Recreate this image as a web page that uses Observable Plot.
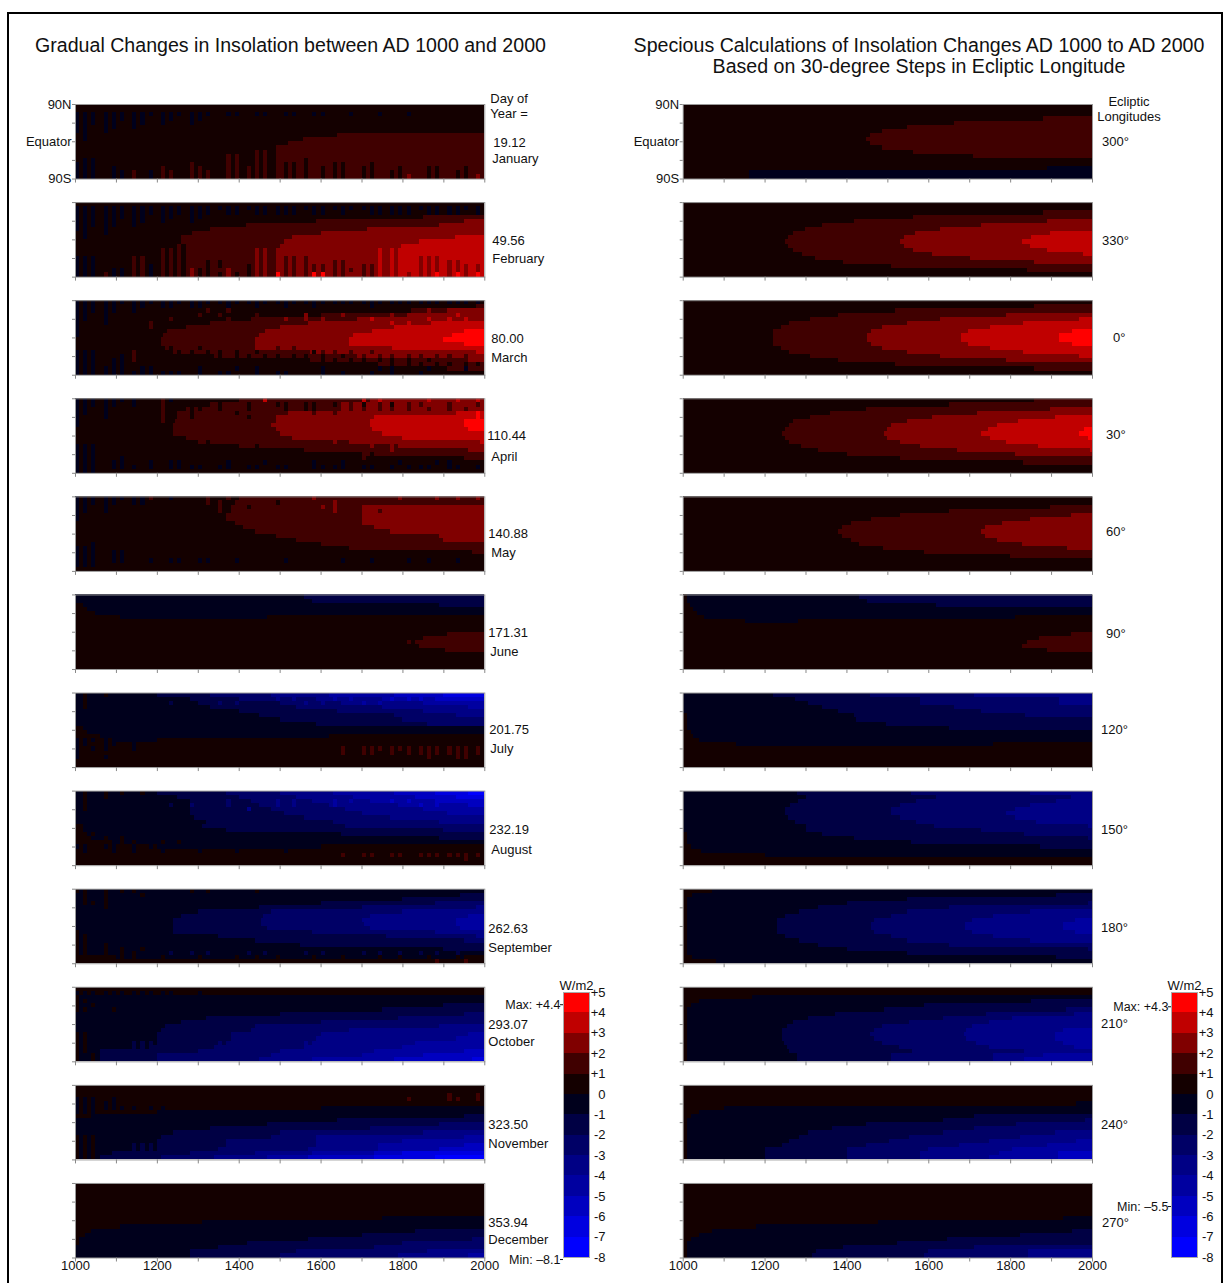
<!DOCTYPE html>
<html><head><meta charset="utf-8">
<script src="https://cdn.jsdelivr.net/npm/d3@7"></script>
<script src="https://cdn.jsdelivr.net/npm/@observablehq/plot@0.6"></script>
<style>
html,body{margin:0;padding:0;background:#fff;overflow:hidden}
#page{position:relative;width:1223px;height:1283px;font-family:"Liberation Sans",Arial,sans-serif;color:#111}
#page>*{position:absolute}
#box{left:7px;top:12px;width:1212px;height:1280px;border:2.5px solid #000}
.t{font-size:19.6px;white-space:nowrap;transform:translateX(-50%);line-height:21px}
</style></head><body><div id="page"><div id="box"></div></div>
<script>
// class codes: 0..4 = 0..+5 W/m2 in unit steps, a..h = 0..-8
const classCodes = ["h","g","f","e","d","c","b","a","0","1","2","3","4"];
const classLower = [-8,-7,-6,-5,-4,-3,-2,-1,0,1,2,3,4];
const classColors = ["#0000ff","#0000e0","#0000c0","#0000a0","#000085","#000066","#000044","#00001c","#140000","#400000","#800000","#c00000","#ff0000"];
const yearTicks = [1000,1100,1200,1300,1400,1500,1600,1700,1800,1900,2000];
const yearLabels = [1000,1200,1400,1600,1800,2000];
const spikeYears = [1000,1020,1040,1070,1090,1110,1140,1160,1180,1210,1230,1250,1280,1300,1320,1350,1370,1390,1420,1440,1460,1490,1510,1530,1560,1580,1600,1630,1650,1670,1700,1720,1740,1770,1790,1810,1840,1860,1880,1910,1930,1950,1980];

// LEFT COLUMN — base bands per latitude row (90N to 90S), "class class@startYear ..."
const janBase = ["0","0","0","0","0","0","0","0 1@1640","0 1@1557","0 1@1520","0 1@1500","0 1@1500","0 1@1500","0 1@1500","0 1@1500","0 1@1500","0 1@1500","0 1@1500"];
const janSpikes = {2:"aaa aaa aaa aaa aaa .aa .aa .aa .aa ..a ..a ..a",3:"aaa aaa aa. aa. aa.",4:"aaa aa. aa. a.. a..",5:"aa. aa. a..",6:"aa. a..",7:".a.",8:".a.",
10:"... ... ... ... ... ... ... 1",11:"... ... ... ... ... ... .11 1",12:"... ... ... ... ... .11 .11 1",13:".aa ... ... ... ... .11 .11 1.. 0..",14:"aaa ... ... ... 1.. .11 .11 100 0.. 00. .0.",15:"aaa .a. ... 1.. 11. .11 111 100 0.0 00. 00. .0. .00 ..0",16:"aaa .aa 1.a 11. 111 .11 111 100 0.0 00. 00. 00. .00 .00",17:"aaa .aa 1.a 11. 111 .11 111 100 0.0 00. 00. 002 .00 .00 2"};
const febBase = ["0","0","0","0 1@1850","0 1@1590 2@1950","0 1@1417 2@1890","0 1@1330 2@1714","0 1@1286 2@1600","0 1@1260 2@1530 3@1928","0 1@1260 2@1510 3@1841","0 1@1270 2@1500 3@1797","0 1@1270 2@1500 3@1797","0 1@1270 2@1500 3@1797","0 1@1270 2@1500 3@1797","0 1@1270 2@1500 3@1797","0 1@1270 2@1500 3@1797","0 1@1270 2@1500 3@1797","0 1@1270 2@1500 3@1797"];
const febSpikes = {1:"aaa aaa aaa aaa aaa aaa aaa aaa aaa aaa aaa aaa aaa aaa a",2:"aaa aaa aaa aaa aaa .aa .aa aaa .aa .a. .aa aaa .aa aa. a",3:"aaa aaa aa. aa. aa.",4:"aaa aa. aa. a.. a..",5:"aaa aa. a..",6:"aa. a..",7:".a. a..",8:".a.",
10:"... ... ... ..1",11:"... ... ... 111 ... ... .22 2.. ... ... ..3 33.",12:"... ... ... 111 ... ... .22 2.. ... ... ..3 33.",13:"aaa ... 11. 111 ... ... .22 211 1.. ... ..3 33. 222",14:"aaa ... 11. 111 ..0 0.. .22 211 1.. 11. ..3 33. 222 22.",15:"aaa ... 11a 111 ..0 0.. 022 211 111 11. 113 33. 222 222 2",16:"aaa .aa 11a 111 200 .2. 022 211 111 111 113 33. 222 222 2",17:"aaa 1aa 11a 111 200 020 022 411 144 112 113 332 224 242 4"};
const marBase = ["0","0 1@1980","0 1@1820 2@1910","0 1@1600 2@1820","0 1@1430 2@1690","0 1@1330 2@1570 3@1870","0 1@1270 2@1500 3@1780","0 1@1225 2@1465 3@1725 4@1950","0 1@1215 2@1450 3@1680 4@1920","0 1@1210 2@1440 3@1670 4@1900","0 1@1210 2@1440 3@1670 4@1950","0 1@1210 2@1440 3@1775","0 1@1230 2@1574 3@1985","0 1@1340 2@1690","0 1@1574 2@1950","0 1@1740","0 1@1910","0"];
const marSpikes = {0:"aaa aaa aaa aaa aaa aaa aaa aaa aaa aaa aaa aaa aaa aaa a",1:"aaa aa. aa. aa. aa. .a. .a. .a. .a. ... .a.",2:"aaa aa. a.. ... ..1 .1. ... ... ... ... ... ... .2. 2.2",3:"aa. a.. ... ... .1. 1.. .1. ... 2.. .2. ... 2.2 2.. .3.",4:"aa. a.. ... .1. ... .1. ... .2. 2.2 ... .3. ... .3. 3.3",5:"a.. a.. ..1 ... ... ... ... ... .2. ... ... 3.3",6:"a.. ... ..1",7:"a..",8:"a..",
11:"... ... ... 00. .0. ... ... 1.1 ... 2.2 2.2 ... 3.3 .3.",12:"aaa ... 1.. 000 0.0 0.0 101 1.1 101 1.1 212 2.2 2.2 2.2 3",13:"aaa ..a 1.. 000 000 0.0 0.0 0.0 010 101 1.1 1.1 1.1 1.1",14:"aaa .aa 1.. ... 000 0.. 0.. 0.0 0.0 0.0 010 010 101 1.1",15:"aaa .aa ... ... ... ... ... ... ... 0.0 ... 0.0 010 0.0 0",16:"aaa aaa .aa ... .a. ..a .a. ... ..a ... ..a a.. .a. ..a",17:"aaa aaa aaa aaa .a. aa. .a. aa. ..a .a. .a. a.. a.."};
const aprBase = ["0 1@1400 2@1720","0 1@1330 2@1650","0 1@1270 2@1650","0 1@1250 2@1520 3@1930","0 1@1250 2@1490 3@1730","0 1@1245 2@1490 3@1720 4@1950","0 1@1240 2@1480 3@1720 4@1950","0 1@1240 2@1490 3@1725 4@1960","0 1@1240 2@1500 3@1750","0 1@1270 2@1530 3@1800","0 1@1300 2@1680 3@1990","0 1@1400 2@1790","0 1@1560 2@1960","0 1@1700","0 1@1950","0","0","0"];
const aprSpikes = {0:"aaa aaa a.. 1a. ... ... ..3 ... .1. ... 3.3 ... .3. .3. 3",1:"aaa aa. a.. 1.. 00. 0.. 0.. 00. 00. 0.1 0.1 0.1 1.. 1.. 1",2:"aa. a.. ... 1.. 00. 0.. 0.. .0. 00. 1.1 1.1 1.1 .1. 1.1",3:"aa. a.. ... 1.. 0.. ..0 ... ... .1. 1.. 2.2 2.2 .2. 2.. 4",4:"a.. a.. ... 1.. 0.. ... 0.. ... ... ... ... ... ... .3. 4",5:"a.. ... ... 1..",6:"a..",
10:"... ... ... ... 0.0 ... ... 1.1 ... 2.2 2.2",11:"aaa ... ... ... ... 0.0 .0. 1.1 .1. 1.1 .2. 2.2 2.. ... 2",12:"aaa ... ... ... 0.0 .0. 0.0 0.0 1.. 1.1 1.1 2.1 .1. 1.1 2",13:"aaa ... ... ... ... .0. 0.0 ... .0. 0.. .0. 1.1 1.1 1.1 1",14:"aaa ..a ... ... ... ... ... ... ... .0. 1.0 .0. 0.0 .0. 1",15:"aaa .aa ..a .aa ... .a. ..a ... .a. .a. ... .a. ..a a..",16:"aaa .aa a.a .aa aa. aa. aa. aa. .aa aa. aa. a.a aa. aa. a",17:"aaa"};
const mayBase = ["0 1@1400","0 1@1400","0 1@1380 2@1700","0 1@1380 2@1700","0 1@1380 2@1700","0 1@1380 2@1700","0 1@1390 2@1700","0 1@1410 2@1730","0 1@1440 2@1770","0 1@1490 2@1890","0 1@1540 2@1900","0 1@1600","0 1@1670","0 1@1970","0","0","0","0"];
const maySpikes = {0:"aaa aaa aa1 .a. ..1 .1. ..1 ... .2. ... ... .2. ..2 .2. 2",1:"aaa aa. aa. ... ..1 1.1 ... 0.. ... 2.. ... ... ...",2:"aa. a.. ... ... ... 1.1 0.. ... ..2 2..  ... ... ... .2.",3:"aa. a.. ... ... ... 1.1 ... ... ... 2.. 2.1 ... ... .2.",4:"a.. ... ... ... ... .1.",5:"a.. ... ... ... ... .1.",11:"..a",12:"aaa",13:"aaa .aa",14:"aaa .aa",15:"aaa .aa ..a .aa .aa ..a ... .a. ... .a. .a. ..a .a. .a.",16:"aaa"};
const junBase = ["a b@1560","a b@1580","0 a@1020 b@1889","0 a@1030","0 a@1050","0 a@1110 0@1470","0","0","0","0 1@1910","0 1@1850","0 1@1830","0 1@1840","0 1@1905","0","0","0","0"];
const junSpikes = {11:"... ... ... ... ... ... ... ... ... ... ... ..1"};
const julBase = ["a b@1200 c@1330 d@1480 e@1620 f@1780 g@1900","a b@1280 c@1400 d@1590 e@1750 f@1890","a b@1300 c@1500 d@1650 e@1850","a b@1330 c@1540 d@1750 e@1960","a b@1400 c@1640 d@1850","a b@1450 c@1780 d@1930","a b@1500 c@1800","a b@1590 c@1860","0 a@1020","0 a@1030","0 a@1060 0@1620","0 a@1100 0@1200","0","0","0","0","0","0"];
const julSpikes = {0:"a0. 0.. ... b..",1:".0. ... ... ... ... ... c.c d.d ... e.e ... f.f f.f f.f f",2:".0. ... ... .b. ... c.c ... ... d.d ... e.e",3:".0.",11:"aaa aa. .a.",12:"aa. aa. a..",13:"a.a a.. a.. ... ... ... ... ... ... .1. 111 111 111 111 1",14:"a.. ... ... ... ... ... ... ... ... .1. 11. 1.1 111 111 1",15:"a.. a.. ... ... ... ... ... ... ... ... ... ... .1. .11"};
const augBase = ["a b@1200 c@1370 d@1500 e@1630 f@1780 g@1880 h@1960","a b@1250 c@1400 d@1540 e@1680 f@1830 g@1930","a b@1280 c@1430 d@1580 e@1720 f@1880","a b@1280 c@1450 d@1620 e@1790 f@1960","a b@1280 c@1480 d@1660 e@1850","a b@1280 c@1510 d@1700 e@1910","a b@1290 c@1560 d@1770","a b@1320 c@1630 d@1890","0 a@1020 b@1310 c@1660","0 a@1020 b@1370 c@1900","0 a@1030 b@1650","0 a@1040 b@1890","0 a@1090","0 a@1200 0@1600","0","0","0","0"];
const augSpikes = {0:"a0a 0.0 .0.",1:".0. 0..",2:".0. ... ... ... ... .c. ... d.d ... e.e ... f.f",3:".0. ... ... .b. c.. .c. ..c d.d ... e.. ... ... f.f",4:".0. ... ... ... ... ... d..",9:"0..",10:"0.0",11:".0. 0.0",12:".0. 0.0 0.. 0.0",13:"aa. aa. a.a a.a .a. a.a .a. a.a .a.",14:".a. .a. a.. a.. .a. ..a ... .a.",15:"... ... ... ... ... ... ... ... ... .1. 11. 11. 111 111 1",16:"... ... ... ... ... ... ... ... ... ... ... ... ... ..1"};
const sepBase = ["a","a b@1940","a b@1800","a b@1600 c@1880","a b@1450 c@1700 d@1980","a b@1300 c@1480 d@1800","a b@1260 c@1460 d@1720 e@1960","a b@1240 c@1455 d@1700 e@1930","a b@1240 c@1454 d@1705 e@1930","a b@1240 c@1470 d@1720 e@1940","a b@1240 c@1580 d@1880","a b@1350 c@1760 d@1980","a b@1440 c@1950","a b@1550","a b@1900","a","0 a@1100 0@1950","0"];
const sepSpikes = {0:"00. 0.0 0.. ... 0.0 ... .0.",1:".0. 0.. .0.",2:".0. 0..",3:".00 0..",4:"... 0",10:"0..",11:"00.",12:"00.",13:"00. 0..",14:"00. 0.0 .0.",15:"00. 0.0 0.. .b. b.b ... b.b ... b.b ... b.b .b. b.b .b.",16:"00. 0.0 0.. 0.. .0. ..0 .0. 0.. .0. .0. ..0 .0. .0. .0. 0",17:"... ... ... ... ... ... ... ... ... ... ... ... ..1 ..1"};
const octBase = ["0","0","a","a","a b@1900","a b@1750","a b@1500 c@1950","a b@1320 c@1790","a b@1260 c@1600","a b@1220 c@1440 d@1890","a b@1210 c@1430 d@1670","a b@1200 c@1380 d@1600 e@1960","a b@1200 c@1380 d@1590 e@1930","a b@1200 c@1380 d@1580 e@1830","a b@1180 c@1340 d@1560 e@1800","a b@1060 c@1300 d@1500 e@1730 f@1950","a b@1060 c@1200 d@1480 e@1700 f@1850","a b@1060 c@1200 d@1450 e@1580 f@1780 g@1970"];
const octSpikes = {1:"aaa aaa aaa aa. .a.",2:"0..",3:"00.",4:"0.0",5:"00. .0.",11:"00.",12:"00.",13:"00. ... bbb ... ... ccc ... ... ddd ... ... ... eee",14:"00. ... bbb ... ... ccc ... ... ddd ... ... ... eee",15:"00.",16:"0.0",17:"0.0"};
const novBase = ["0","0","0","0","0","0 a@1600","0 a@1200","0 a@1040 b@1950","a b@1640","a b@1470 c@1890","a b@1330 c@1720","a b@1240 c@1500 d@1850","a b@1210 c@1480 d@1590 e@1950","a b@1200 c@1370 d@1590 e@1800","a b@1200 c@1370 d@1590 e@1740 f@1950","a b@1200 c@1350 d@1570 e@1740 f@1890","a b@1090 c@1280 d@1440 e@1580 f@1730 g@1800","a b@1060 c@1210 d@1340 e@1470 f@1570 g@1730 h@1880"];
const novSpikes = {2:"... ... ... ... ... ... ... ... ... ... ... ... ... 1.. 1",3:"aaa .a. ... ... ... ... ... ... ... ... ... ..1 ... 11. 1",4:"aaa aa.",5:"aaa aaa a.a a..",6:"aaa",12:"000",13:"000",14:"000 ... bbb",15:"000 ... bbb",16:"000",17:"000"};
const decBase = ["0","0","0","0","0","0","0","0","0 a@1750","0 a@1310","0 a@1110","0 a@1040 b@1830","0 a@1025 b@1700","0 a@1010 b@1570 c@1970","0 a@1010 b@1420 c@1800","a b@1350 c@1730","a b@1280 c@1540 d@1860","a b@1280 c@1500 d@1790 e@1960"];

// RIGHT COLUMN
const lon300 = ["0","0","0","0 1@1880","0 1@1663","0 1@1549","0 1@1488","0 1@1458","0 1@1449","0 1@1458","0 1@1488","0 1@1562","0 1@1710","0","0","0 a@1889","0 a@1161","0 a@1161"];
const lon330 = ["0","0","0 1@1880","0 1@1562","0 1@1419 2@1889","0 1@1340 2@1728","0 1@1299 2@1628","0 1@1270 2@1567 3@1898","0 1@1257 2@1541 3@1850","0 1@1250 2@1530 3@1828","0 1@1257 2@1541 3@1848","0 1@1270 2@1562 3@1889","0 1@1292 2@1610 3@1977","0 1@1323 2@1702","0 1@1392 2@1859","0 1@1510","0 1@1841","0"];
const lon0 = ["0","0 1@1859","0 1@1519","0 1@1379 2@1789","0 1@1310 2@1628 3@1968","0 1@1259 2@1549 3@1831","0 1@1240 2@1488 3@1750","0 1@1221 2@1460 3@1698 4@1950","0 1@1221 2@1451 3@1680 4@1920","0 1@1221 2@1451 3@1680 4@1920","0 1@1221 2@1460 3@1698 4@1950","0 1@1240 2@1488 3@1750","0 1@1259 2@1549 3@1831","0 1@1310 2@1628 3@1968","0 1@1379 2@1789","0 1@1519","0 1@1859","0"];
const lon30 = ["0 1@1859","0 1@1650","0 1@1449 2@1898","0 1@1360 2@1719","0 1@1310 2@1610 3@1909","0 1@1270 2@1549 3@1820","0 1@1259 2@1510 3@1768","0 1@1250 2@1500 3@1746 4@1981","0 1@1242 2@1491 3@1730 4@1968","0 1@1250 2@1500 3@1750 4@1990","0 1@1259 2@1530 3@1789","0 1@1290 2@1580 3@1868","0 1@1330 2@1671 3@1994","0 1@1401 2@1811","0 1@1532","0 1@1831","0","0"];
const lon60 = ["0","0","0 1@1898","0 1@1650","0 1@1530 2@1948","0 1@1460 2@1848","0 1@1410 2@1780","0 1@1390 2@1739","0 1@1379 2@1730","0 1@1390 2@1739","0 1@1410 2@1769","0 1@1430 2@1829","0 1@1490 2@1939","0 1@1590","0 1@1800","0","0","0"];
const lon90 = ["0 a@1011 b@1430","0 a@1011 b@1451","0 a@1017 b@1619","0 a@1026","0 a@1035","0 a@1052 0@1811","0 a@1153 0@1281","0","0","0 1@1948","0 1@1870","0 1@1842","0 1@1829","0 1@1889","0","0","0","0"];
const lon120 = ["a b@1221 c@1458 d@1711","a b@1275 c@1580 d@1920","a b@1305 c@1580 d@1920","a b@1340 c@1663","a b@1379 c@1728","0 a@1011 b@1419 c@1837","0 a@1011 b@1424","0 a@1011 b@1497","0 a@1011 b@1650","0 a@1020","0 a@1026","0 a@1040","0 a@1131 0@1759","0","0","0","0","0"];
const lon150 = ["a b@1279 c@1558 d@1848","a b@1301 c@1619 d@1948","a b@1281 c@1571 d@1911","a b@1262 c@1530 d@1848","a b@1250 c@1510 d@1811","a b@1250 c@1510 d@1789","a b@1257 c@1530 d@1811","a b@1275 c@1571 d@1863","a b@1301 c@1615 d@1990","a b@1301 c@1728","0 a@1011 b@1340 c@1833","0 a@1011 b@1419 c@1990","0 a@1011 b@1558","0 a@1020 b@1872","0 a@1044","0 a@1200","0","0"];
const lon180 = ["0 a@1072","0 a@1022 b@1911","0 a@1011 b@1549","0 a@1011 b@1401 c@1990","0 a@1011 b@1331 c@1650","0 a@1011 b@1283 c@1549 d@1848","0 a@1011 b@1250 c@1510 d@1759","0 a@1011 b@1231 c@1468 d@1706 e@1959","0 a@1011 b@1231 c@1460 d@1689 e@1929","0 a@1011 b@1231 c@1460 d@1689 e@1929","0 a@1011 b@1231 c@1468 d@1706 e@1959","0 a@1011 b@1250 c@1510 d@1759","0 a@1011 b@1283 c@1549 d@1848","0 a@1011 b@1331 c@1650","0 a@1011 b@1401 c@1990","0 a@1011 b@1549","0 a@1022 b@1911","0 a@1081"];
const lon210 = ["0","0","0 a@1170","0 a@1040 b@1850","0 a@1020 b@1590","0 a@1011 b@1491 c@1937","0 a@1011 b@1373 c@1740 d@1956","0 a@1011 b@1307 c@1636 d@1805","0 a@1011 b@1270 c@1552 d@1749","0 a@1011 b@1256 c@1486 d@1707","0 a@1011 b@1242 c@1467 d@1693 e@1928","0 a@1011 b@1242 c@1458 d@1688 e@1909","0 a@1011 b@1242 c@1467 d@1693 e@1909","0 a@1011 b@1247 c@1486 d@1716 e@1928","0 a@1011 b@1256 c@1528 d@1749 e@1956","0 a@1011 b@1260 c@1561 d@1834","0 a@1011 b@1279 c@1509 d@1759 e@1881","0 a@1011 b@1279 c@1509 d@1759 e@1834"];
const lon240 = ["0","0","0","0","0 a@1960","0 a@1101","0 a@1040","0 a@1020 b@1712","0 a@1011 b@1636 c@1984","0 a@1011 b@1448 c@1815","0 a@1011 b@1364 c@1712","0 a@1011 b@1307 c@1636 d@1909","0 a@1011 b@1284 c@1552 d@1824","0 a@1011 b@1260 c@1505 d@1749 e@1961","0 a@1011 b@1242 c@1448 d@1674 e@1890","0 a@1011 b@1200 c@1401 d@1599 e@1805","0 a@1011 b@1200 c@1401 d@1580 e@1773 f@1918","0 a@1011 b@1200 c@1401 d@1580 e@1749 f@1918"];
const lon270 = ["0","0","0","0","0","0","0","0","0 a@1928","0 a@1477","0 a@1180","0 a@1072 b@1951","0 a@1040 b@1824","0 a@1020 b@1646","0 a@1011 b@1523","0 a@1011 b@1392 c@1712","0 a@1011 b@1326 c@1599 d@1843","0 a@1011 b@1317 c@1590 d@1843"];

const leftBases = [janBase,febBase,marBase,aprBase,mayBase,junBase,julBase,augBase,sepBase,octBase,novBase,decBase];
const leftSpikes = [janSpikes,febSpikes,marSpikes,aprSpikes,maySpikes,junSpikes,julSpikes,augSpikes,sepSpikes,octSpikes,novSpikes,{}];
const rightBases = [lon300,lon330,lon0,lon30,lon60,lon90,lon120,lon150,lon180,lon210,lon240,lon270];

const dayValues = ["19.12","49.56","80.00","110.44","140.88","171.31","201.75","232.19","262.63","293.07","323.50","353.94"];
const monthNames = ["January","February","March","April","May","June","July","August","September","October","November","December"];
const longitudes = ["300°","330°","0°","30°","60°","90°","120°","150°","180°","210°","240°","270°"];
// label placement in page pixels
const dayX = [493,492,491,487,488,488,489,489,488,488,488,488];
const dayY = [142,240,338,435,533,632,729,829,928,1024,1124,1222];
const monthX = [492,492,491,491,491,490,490,491,488,488,488,488];
const monthY = [158,258,357,456,552,651,748,849,947,1041,1143,1239];
const lonX = [1102,1102,1113,1106,1106,1106,1101,1101,1101,1101,1101,1102];
const lonY = [141,240,337,434,531,633,729,829,927,1023,1124,1222];

const valueOf = Object.fromEntries(classCodes.map((c,i)=>[c,classLower[i]+0.5]));
const cells = [];
function addRuns(rows,col,row){
  rows.forEach((s,r)=>{
    const toks = s.split(" ").map((t,i)=> i===0?[t,1000]:[t.split("@")[0],+t.split("@")[1]]);
    toks.forEach(([c,start],i)=>{
      cells.push({col,row,x1:start,x2:i+1<toks.length?toks[i+1][1]:2000,y1:90-10*r,y2:80-10*r,v:valueOf[c]});
    });
  });
}
function addSpikes(strips,col,row){
  Object.entries(strips).forEach(([r,s])=>{
    [...s.replace(/\s/g,"")].forEach((c,i)=>{
      if(c!=="."&&i<spikeYears.length) cells.push({col,row,x1:spikeYears[i],x2:spikeYears[i]+10,y1:90-10*r,y2:80-10*r,v:valueOf[c]});
    });
  });
}
leftBases.forEach((b,i)=>{addRuns(b,0,i);addSpikes(leftSpikes[i],0,i);});
rightBases.forEach((b,i)=>addRuns(b,1,i));

const X0=[75,683],PW=409.5,TOP=104,STEP=98.05,PH=74.5;
const yrAt=(px,col)=>1000+(px-X0[col])/PW*1000;
const latAt=(py,row)=>90-(py-(TOP+STEP*row))/PH*180;
const labelsStart=[];
dayValues.forEach((t,i)=>labelsStart.push({col:0,row:i,x:yrAt(dayX[i],0),y:latAt(dayY[i],i),t}));
monthNames.forEach((t,i)=>labelsStart.push({col:0,row:i,x:yrAt(monthX[i],0),y:latAt(monthY[i],i),t}));
longitudes.forEach((t,i)=>labelsStart.push({col:1,row:i,x:yrAt(lonX[i],1),y:latAt(lonY[i],i),t}));
labelsStart.push({col:0,row:0,x:yrAt(490,0),y:latAt(98,0),t:"Day of"},{col:0,row:0,x:yrAt(490,0),y:latAt(113,0),t:"Year ="});
const labelsMid=[{col:1,row:0,x:yrAt(1129,1),y:latAt(101,0),t:"Ecliptic"},{col:1,row:0,x:yrAt(1129,1),y:latAt(116,0),t:"Longitudes"}];
const FONT='"Liberation Sans",Arial,sans-serif';

const chart = Plot.plot({
  width:1223,height:1283,marginLeft:75,marginRight:131,marginTop:104,marginBottom:25.5,
  style:{background:"transparent",fontFamily:FONT,fontSize:"13px",color:"#111"},
  x:{domain:[1000,2000],axis:null},
  y:{domain:[-90,90],axis:null},
  fx:{domain:[0,1],axis:null,paddingInner:0.3265,paddingOuter:0,round:false},
  fy:{domain:d3.range(12),axis:null,paddingInner:0.24,paddingOuter:0,round:false},
  color:{type:"threshold",domain:classLower.slice(1),range:classColors},
  marks:[
    Plot.rect(cells,{x1:"x1",x2:"x2",y1:"y1",y2:"y2",fill:"v",fx:"col",fy:"row",shapeRendering:"crispEdges"}),
    Plot.frame({stroke:"#999",strokeWidth:1}),
    Plot.axisX(yearTicks,{anchor:"bottom",tickSize:4,tickFormat:()=>"",label:null,facetAnchor:null,stroke:"#888"}),
    Plot.axisY([-90,-45,0,45,90],{anchor:"left",tickSize:3,tickFormat:()=>"",label:null,facetAnchor:null,stroke:"#888"}),
    Plot.axisX(yearLabels,{anchor:"bottom",tickSize:0,tickPadding:3,tickFormat:"d",label:null,facetAnchor:"bottom",fontSize:13}),
    Plot.axisY([90,0,-90],{anchor:"left",tickSize:0,tickPadding:4,tickFormat:d=>d===90?"90N":d===0?"Equator":"90S",label:null,facetAnchor:"top",fontSize:13}),
    Plot.text(labelsStart,{x:"x",y:"y",text:"t",fx:"col",fy:"row",textAnchor:"start",fontSize:13}),
    Plot.text(labelsMid,{x:"x",y:"y",text:"t",fx:"col",fy:"row",textAnchor:"middle",fontSize:13})
  ]
});
const page=document.getElementById("page");
chart.style.left="0";chart.style.top="0";
page.appendChild(chart);

function titleLine(text,cx,top){
  const d=document.createElement("div");d.className="t";d.textContent=text;
  d.style.left=cx+"px";d.style.top=top+"px";page.appendChild(d);
}
titleLine("Gradual Changes in Insolation between AD 1000 and 2000",290.5,35);
titleLine("Specious Calculations of Insolation Changes AD 1000 to AD 2000",919,35);
titleLine("Based on 30-degree Steps in Ecliptic Longitude",919,56);

const barValues=d3.range(-8,6);
const barLower=classLower;
function colorbar(left,maxV,minV,maxT,minT){
  const p=Plot.plot({
    width:125,height:310,marginLeft:73,marginRight:26,marginTop:27,marginBottom:18,
    style:{background:"transparent",fontFamily:FONT,fontSize:"13px",color:"#111"},
    x:{domain:[0,1],axis:null},
    y:{domain:[-8,5],axis:null},
    color:{type:"threshold",domain:classLower.slice(1),range:classColors},
    marks:[
      Plot.rect(barLower,{x1:0,x2:1,y1:d=>d,y2:d=>d+1,fill:d=>d+0.5,shapeRendering:"crispEdges"}),
      Plot.frame({stroke:"#aaa",strokeWidth:1}),
      Plot.axisY(barValues,{anchor:"right",tickSize:0,tickPadding:16,textAnchor:"end",tickFormat:d=>d>0?"+"+d:String(d),label:null,fontSize:13}),
      Plot.axisY([maxV,minV],{anchor:"left",tickSize:3,tickPadding:0,tickFormat:d=>d===maxV?maxT:minT,label:null,fontSize:12.5}),
      Plot.text(["W/m2"],{frameAnchor:"top",dy:-3,lineAnchor:"bottom",fontSize:13})
    ]
  });
  p.style.left=left+"px";p.style.top="965px";
  page.appendChild(p);
}
colorbar(490,4.4,-8.1,"Max: +4.4","Min: –8.1");
colorbar(1098,4.3,-5.5,"Max: +4.3","Min: –5.5");
</script></body></html>
